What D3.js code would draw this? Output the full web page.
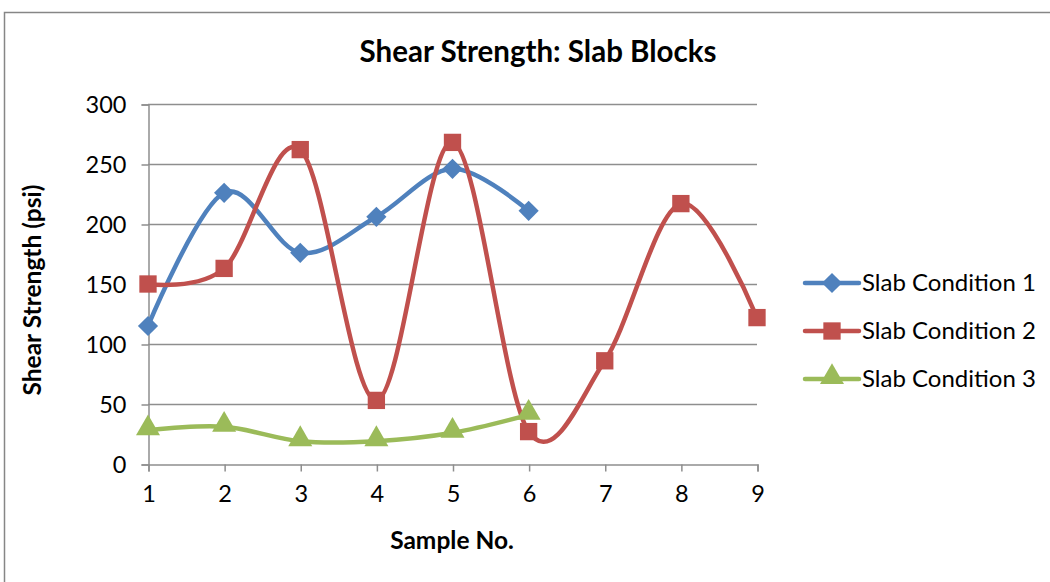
<!DOCTYPE html>
<html><head><meta charset="utf-8">
<script src="https://cdn.jsdelivr.net/npm/d3@7"></script>
<style>body{margin:0;background:#fff}svg{display:block}</style>
</head><body><svg id="c" width="1050" height="582"></svg>
<script>
const samples = [1,2,3,4,5,6,7,8,9];
const yTicks = [0,50,100,150,200,250,300];
const cond1 = [115,226,176,206,246,211];
const cond2 = [150,163,262,53,268,27,86,217,122];
const cond3 = [28,31,19,19,26,41];
const seriesNames = ["Slab Condition 1","Slab Condition 2","Slab Condition 3"];
const colors = ["#4F81BD","#C0504D","#9BBB59"];
const symbols = [d3.symbolDiamond2, d3.symbolSquare, d3.symbolTriangle];
const FONT = "Lato, 'Open Sans', sans-serif";

const svg = d3.select("#c");
svg.append("rect").attr("x",4.5).attr("y",12.5).attr("width",1100).attr("height",620)
  .attr("fill","#fff").attr("stroke","#868686").attr("stroke-width",1.5);

const x = d3.scaleLinear().domain([1,9]).range([148,757]);
const y = d3.scaleLinear().domain([0,300]).range([464,104]);

svg.append("g").selectAll("line").data(yTicks.filter(d=>d>0)).join("line")
  .attr("x1",148).attr("x2",757).attr("y1",d=>y(d)+0.5).attr("y2",d=>y(d)+0.5)
  .attr("stroke","#8e8e8e").attr("stroke-width",1.5);

const yAxis = svg.append("g").attr("transform","translate(148.5,0.5)")
  .call(d3.axisLeft(y).tickValues(yTicks).tickSize(7).tickPadding(15));
yAxis.attr("font-family",FONT).attr("font-size",23.5);
yAxis.select(".domain").attr("stroke","#8e8e8e").attr("stroke-width",1.5);
yAxis.selectAll(".tick line").attr("stroke","#8e8e8e").attr("stroke-width",1.5);
yAxis.selectAll("text").attr("fill","#000");

const xAxis = svg.append("g").attr("transform","translate(0.5,464.5)")
  .call(d3.axisBottom(x).tickValues(samples).tickSize(7).tickPadding(14).tickFormat(d3.format("d")));
xAxis.attr("font-family",FONT).attr("font-size",23.5);
xAxis.select(".domain").attr("stroke","#8e8e8e").attr("stroke-width",1.5);
xAxis.selectAll(".tick line").attr("stroke","#8e8e8e").attr("stroke-width",1.5);
xAxis.selectAll("text").attr("fill","#000");

const allSeries = [cond1,cond2,cond3];
const line = d3.line().x((d,i)=>x(samples[i])).y(d=>y(d)).curve(d3.curveCardinal.tension(0));

allSeries.forEach((s,k)=>{
  svg.append("path").datum(s).attr("d",line).attr("fill","none")
    .attr("stroke",colors[k]).attr("stroke-width",4.5);
});
const sizes = [260,300,250];
allSeries.forEach((s,k)=>{
  svg.append("g").selectAll("path").data(s).join("path")
    .attr("d",d3.symbol().type(symbols[k]).size(sizes[k]))
    .attr("transform",(d,i)=>`translate(${x(samples[i])},${y(d)+(k===2?-2:0)})`)
    .attr("fill",colors[k]);
});

const txt = svg.append("g").attr("font-family",FONT);
txt.append("text").attr("x",538).attr("y",62).attr("text-anchor","middle")
  .attr("font-size",29.5).attr("font-weight","bold").text("Shear Strength: Slab Blocks");
txt.append("text").attr("x",452).attr("y",549).attr("text-anchor","middle")
  .attr("font-size",24.5).attr("font-weight","bold").text("Sample No.");
txt.append("text").attr("transform","translate(41,290) rotate(-90)").attr("text-anchor","middle")
  .attr("font-size",24.5).attr("font-weight","bold").text("Shear Strength (psi)");

seriesNames.forEach((n,k)=>{
  const ly = 283 + k*48;
  const g = txt.append("g");
  g.append("line").attr("x1",805).attr("x2",859).attr("y1",ly).attr("y2",ly)
    .attr("stroke",colors[k]).attr("stroke-width",4.5).attr("stroke-linecap","round");
  g.append("path").attr("d",d3.symbol().type(symbols[k]).size(sizes[k]))
    .attr("transform",`translate(832,${ly+(k===2?-2:0)})`).attr("fill",colors[k]);
  g.append("text").attr("x",862).attr("y",ly+8).attr("font-size",24).text(n);
});
</script></body></html>
